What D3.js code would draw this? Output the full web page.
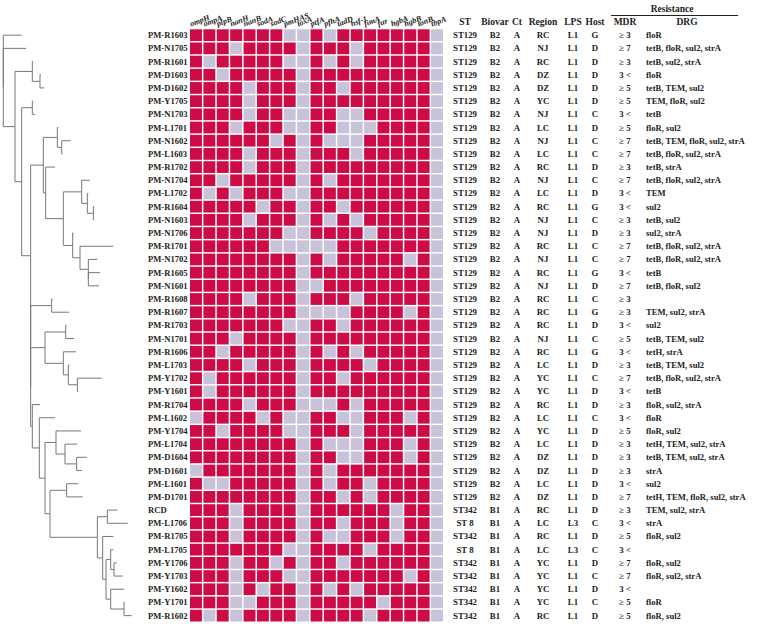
<!DOCTYPE html>
<html>
<head>
<meta charset="utf-8">
<script src="https://cdn.jsdelivr.net/npm/d3@7/dist/d3.min.js"></script>
<style>
  body { margin: 0; background: #fff; }
  text { font-family: "Liberation Serif", "Times New Roman", serif; font-weight: bold; fill: #222; }
</style>
</head>
<body>
<svg id="chart"></svg>
<script>
// Define SVG dimensions
const width = 764;
const height = 628;

// Strains, top to bottom
const strains = ["PM-R1603","PM-N1705","PM-R1601","PM-D1603","PM-D1602","PM-Y1705","PM-N1703","PM-L1701","PM-N1602","PM-L1603",
  "PM-R1702","PM-N1704","PM-L1702","PM-R1604","PM-N1603","PM-N1706","PM-R1701","PM-N1702","PM-R1605","PM-N1601",
  "PM-R1608","PM-R1607","PM-R1703","PM-N1701","PM-R1606","PM-L1703","PM-Y1702","PM-Y1601","PM-R1704","PM-L1602",
  "PM-Y1704","PM-L1704","PM-D1604","PM-D1601","PM-L1601","PM-D1701","RCD","PM-L1706","PM-R1705","PM-L1705",
  "PM-Y1706","PM-Y1703","PM-Y1602","PM-Y1701","PM-R1602"];

// Virulence genes (heatmap columns)
const genes = ["ompH","ompA","plpB","nanH","nanB","sodA","sodC","pmHAS","toxA","ptfA","pfhA","tadD","hsf-1","fimA","fur","hgbA","hgbB","tonB","tbpA"];

// Presence (1) / absence (0) of each gene, one string per strain
const presence = [
  "1111111001011111110","1110111101110111110","1011111001010111110","1101111101111111110","1111011101101111110",
  "1111011101111111110","1111011001100111110","1110111001100011110","1111110101000111110","1111011101110111110",
  "1111011101111111110","1101111101011111110","1010111001111111110","1111101101101111110","1111011101010111110",
  "1111111001111011110","1111110000011111110","1111111101011111010","1111111101111111110","1111111100111111110",
  "1111011101110111110","1111111100001111010","1111111001101111110","1110111101111111110","1101111101010111110",
  "1111011101111011110","1011111101101111110","1011111101111111110","1111011100010111110","0111101001100111010",
  "1101111001110111110","1111111101000111010","1111111101100111010","0111111101011111110","1001111101011011110",
  "1111111101101011110","1110111101111110110","1110111101101110110","1110111101001110110","1111111001111011110",
  "1110110101101111110","1110111001111111010","1110101101010111110","1110011101111101110","1010111101111011110"];

// Table columns
const stValues = Array(36).fill("ST129").concat(["ST342","ST 8","ST342","ST 8","ST342","ST342","ST342","ST342","ST342"]);
const biovarValues = Array(36).fill("B2").concat(Array(9).fill("B1"));
const ctValues = Array(45).fill("A");
const regionValues = ["RC","NJ","RC","DZ","DZ","YC","NJ","LC","NJ","LC","RC","NJ","LC","RC","NJ","NJ","RC","NJ","RC","NJ",
  "RC","RC","RC","NJ","RC","LC","YC","YC","RC","LC","YC","LC","DZ","DZ","LC","DZ","RC","LC","RC","LC","YC","YC","YC","YC","RC"];
const lpsValues = Array(37).fill("L1").concat(["L3","L1","L3","L1","L1","L1","L1","L1"]);
const hostValues = ["G","D","D","D","D","D","C","D","C","C","D","C","D","G","C","D","C","C","G","D",
  "C","G","D","C","G","D","C","D","D","C","D","D","D","D","D","D","D","C","D","C","D","C","D","C","D"];
const mdrValues = ["≥ 3","≥ 7","≥ 3","3 <","≥ 5","≥ 5","3 <","≥ 5","≥ 7","≥ 7","≥ 3","≥ 7","3 <","3 <","≥ 3","≥ 3","≥ 7","≥ 7","3 <","≥ 7",
  "≥ 3","≥ 3","3 <","≥ 5","3 <","≥ 3","≥ 7","3 <","≥ 3","3 <","≥ 5","≥ 3","≥ 3","≥ 3","3 <","≥ 7","≥ 3","3 <","≥ 5","3 <",
  "≥ 7","≥ 7","3 <","≥ 5","≥ 5"];
const drgValues = ["floR","tetB, floR, sul2, strA","tetB, sul2, strA","floR","tetB, TEM, sul2","TEM, floR, sul2","tetB","floR, sul2",
  "tetB, TEM, floR, sul2, strA","tetB, floR, sul2, strA","tetB, strA","tetB, floR, sul2, strA","TEM","sul2","tetB, sul2","sul2, strA",
  "tetB, floR, sul2, strA","tetB, floR, sul2, strA","tetB","tetB, floR, sul2","","TEM, sul2, strA","sul2","tetB, TEM, sul2","tetH, strA",
  "tetB, TEM, sul2","tetB, floR, sul2, strA","tetB","floR, sul2, strA","floR","floR, sul2","tetH, TEM, sul2, strA","tetB, TEM, sul2, strA",
  "strA","sul2","tetH, TEM, floR, sul2, strA","TEM, sul2, strA","strA","floR, sul2","","floR, sul2","floR, sul2, strA","","floR","floR, sul2"];

// Dendrogram (Newick, branch lengths in arbitrary units)
const treeNewick = "(PM-R1603:55,(PM-N1705:68,((PM-R1601:3,(PM-D1603:3,PM-D1602:13):23):52,((PM-Y1705:3,PM-N1703:8):32," +
  "(((PM-L1701:3,(PM-N1602:27,PM-L1603:3):13):42,(PM-R1702:28,((PM-N1704:25,(PM-L1702:3,(PM-R1604:3,PM-N1603:3):18):17):55," +
  "(PM-N1706:3,(PM-R1701:100,(PM-N1702:27,(PM-R1605:35,PM-N1601:32):0):25):22):28):53):7):38," +
  "((PM-R1608:3,PM-R1607:52):63,(((PM-R1703:3,PM-N1701:25):62,(PM-R1606:38,(PM-L1703:3,(PM-Y1702:73,PM-Y1601:3):27):15):55):43," +
  "(PM-R1704:23,(PM-L1602:47,((PM-Y1704:75,(PM-L1704:37,(PM-D1604:30,PM-D1601:15):35):27):33," +
  "((PM-L1601:35,PM-D1701:48):50,((RCD:30,PM-L1706:61):30,(PM-R1705:32,((PM-L1705:8,(PM-Y1706:8,PM-Y1703:26):10):14," +
  "(PM-Y1602:40,(PM-Y1701:3,PM-R1602:23):40):14):10):16):142):15):17):21):5):0):0):27):20):35):0);";

// Simple Newick parser
function parseNewick(s) {
  let i = 0;
  function node() {
    const n = { children: [], name: "", length: 0 };
    if (s[i] === "(") {
      i++;
      n.children.push(node());
      while (s[i] === ",") { i++; n.children.push(node()); }
      i++; // ')'
    }
    let name = "";
    while (i < s.length && !",():;".includes(s[i])) name += s[i++];
    n.name = name;
    if (s[i] === ":") {
      i++;
      let num = "";
      while (i < s.length && !",();".includes(s[i])) num += s[i++];
      n.length = +num;
    }
    return n;
  }
  return node();
}

const svg = d3.select("#chart")
    .attr("width", width)
    .attr("height", height)
    .style("background", "#fff");

// Scales
const y = d3.scaleBand().domain(strains).range([29.3, 621.5]).paddingInner(0.11);
const x = d3.scaleBand().domain(genes).range([190, 443]).paddingInner(0.11);

// Tree
const root = d3.hierarchy(parseNewick(treeNewick), d => d.children.length ? d.children : null);
root.eachBefore(d => { d.depthLen = d.parent ? d.parent.depthLen + d.data.length : 0; });
const maxLen = d3.max(root.leaves(), d => d.depthLen);
const tx = d3.scaleLinear().domain([0, maxLen]).range([3.3, 131.7]);
root.eachAfter(d => {
  if (!d.children) d.yPos = y(d.data.name) + y.bandwidth() / 2;
  else d.yPos = (d.children[0].yPos + d.children[d.children.length - 1].yPos) / 2;
  d.xPos = tx(d.depthLen);
});

svg.append("g")
    .selectAll("path")
    .data(root.descendants().filter(d => d.parent))
    .join("path")
    .attr("d", d => `M${d.parent.xPos},${d.parent.yPos}V${d.yPos}H${d.xPos}`)
    .attr("fill", "none")
    .attr("stroke", "#777")
    .attr("stroke-width", 1);

// Strain labels
svg.append("g")
    .selectAll("text")
    .data(strains)
    .join("text")
    .attr("x", 148)
    .attr("y", d => y(d) + y.bandwidth() / 2 + 3)
    .attr("font-size", 8.6)
    .text(d => d);

// Heatmap cells
const cells = [];
strains.forEach((s, r) => genes.forEach((g, c) => cells.push({ s, g, v: presence[r][c] === "1" })));
svg.append("g")
    .selectAll("rect")
    .data(cells)
    .join("rect")
    .attr("x", d => x(d.g))
    .attr("y", d => y(d.s))
    .attr("width", x.bandwidth())
    .attr("height", y.bandwidth())
    .attr("fill", d => d.v ? "#cc0b47" : "#c9c3da");

// Gene labels (slanted)
svg.append("g")
    .selectAll("text")
    .data(genes)
    .join("text")
    .attr("transform", d => `translate(${x(d) + 1},26.5) rotate(-20)`)
    .attr("font-size", 8)
    .attr("font-style", "italic")
    .text(d => d);

// Table columns
const tableCols = [
  { title: "ST", values: stValues, x: 465, anchor: "middle" },
  { title: "Biovar", values: biovarValues, x: 495, anchor: "middle" },
  { title: "Ct", values: ctValues, x: 517, anchor: "middle" },
  { title: "Region", values: regionValues, x: 543, anchor: "middle" },
  { title: "LPS", values: lpsValues, x: 573, anchor: "middle" },
  { title: "Host", values: hostValues, x: 595, anchor: "middle" },
  { title: "MDR", values: mdrValues, x: 625, anchor: "middle" }
];
const tbl = svg.append("g");
tableCols.forEach(col => {
  tbl.append("text")
      .attr("x", col.x)
      .attr("y", 25)
      .attr("text-anchor", "middle")
      .attr("font-size", 9.5)
      .text(col.title);
  tbl.append("g")
      .selectAll("text")
      .data(col.values)
      .join("text")
      .attr("x", col.x)
      .attr("y", (d, i) => y(strains[i]) + y.bandwidth() / 2 + 3)
      .attr("text-anchor", col.anchor)
      .attr("font-size", 8.8)
      .text(d => d);
});

// DRG column
tbl.append("text")
    .attr("x", 687).attr("y", 25)
    .attr("text-anchor", "middle")
    .attr("font-size", 9.5)
    .text("DRG");
tbl.append("g")
    .selectAll("text")
    .data(drgValues)
    .join("text")
    .attr("x", 646)
    .attr("y", (d, i) => y(strains[i]) + y.bandwidth() / 2 + 3)
    .attr("font-size", 8.6)
    .text(d => d);

// Resistance header with rule
tbl.append("text")
    .attr("x", 672).attr("y", 12)
    .attr("text-anchor", "middle")
    .attr("font-size", 9.5)
    .text("Resistance");
tbl.append("line")
    .attr("x1", 611).attr("x2", 738)
    .attr("y1", 15.5).attr("y2", 15.5)
    .attr("stroke", "#222")
    .attr("stroke-width", 1);
</script>
</body>
</html>
